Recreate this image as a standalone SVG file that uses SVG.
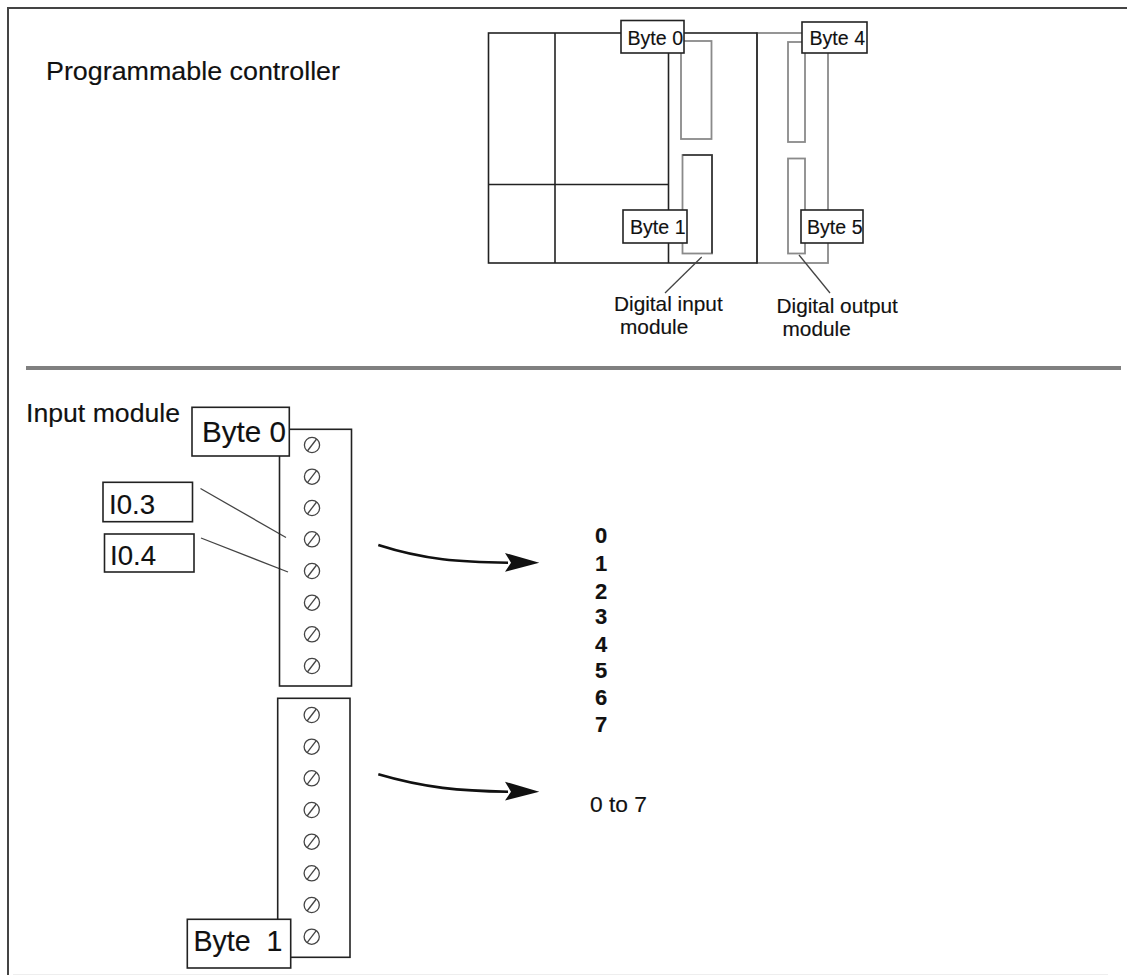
<svg xmlns="http://www.w3.org/2000/svg" width="1127" height="975" viewBox="0 0 1127 975">
<style>
text{font-family:"Liberation Sans",Arial,sans-serif;fill:#111;stroke:#111;stroke-width:.15}
.k{fill:none;stroke:#222;stroke-width:1.6}
.g{fill:none;stroke:#8a8a8a;stroke-width:1.8}
.b{fill:#fff;stroke:#222;stroke-width:1.6}
.l{fill:none;stroke:#444;stroke-width:1.3}
.s{fill:#fff;stroke:#444;stroke-width:1.3}
.t20{font-size:19.6px}
.t21{font-size:20.8px}
.n{font-size:22px;font-weight:bold}
</style>
<defs>
<g id="screw"><circle class="s" r="7.6"/><line class="l" x1="-4.6" y1="6" x2="4.6" y2="-6"/></g>
</defs>
<rect width="1127" height="975" fill="#fff"/>
<g id="frame">
<line x1="8" y1="8" x2="1127" y2="8" stroke="#444" stroke-width="2"/>
<line x1="8" y1="7" x2="8" y2="975" stroke="#444" stroke-width="2"/>
<line x1="26" y1="368" x2="1121" y2="368" stroke="#808080" stroke-width="4"/>
<line x1="13" y1="974.5" x2="1108" y2="974.5" stroke="#eee" stroke-width="1"/>
</g>
<text x="46" y="79.5" style="font-size:25px" textLength="294" lengthAdjust="spacingAndGlyphs">Programmable controller</text>
<text x="26" y="422" style="font-size:25px" textLength="154" lengthAdjust="spacingAndGlyphs">Input module</text>
<g id="controller">
<rect class="g" x="757" y="33" width="71" height="230"/>
<rect class="k" x="488.5" y="33" width="268.5" height="230"/>
<line class="k" x1="555" y1="33" x2="555" y2="263"/>
<line class="k" x1="668.5" y1="33" x2="668.5" y2="263"/>
<line class="k" x1="488.5" y1="184.5" x2="668.5" y2="184.5"/>
</g>
<g id="slots">
<rect class="g" x="681" y="41" width="30.5" height="98"/>
<rect class="g" x="682.5" y="155" width="29.5" height="98.5"/>
<path class="k" d="M682.5 155H712V253.5" style="stroke:#333"/>
<rect class="g" x="788" y="42" width="17" height="100"/>
<rect class="g" x="788" y="158.5" width="17" height="95"/>
</g>
<g id="connectors">
<line class="l" x1="665" y1="293" x2="701.7" y2="257"/>
<line class="l" x1="799" y1="255" x2="830" y2="293"/>
<line class="l" x1="200.5" y1="488.5" x2="286" y2="537.5"/>
<line class="l" x1="201" y1="538" x2="288" y2="572"/>
<path d="M378.3 545C425 560 460 562 508 562.7" fill="none" stroke="#111" stroke-width="2.6"/>
<path d="M505 553L539.3 562.7L505 571.7L511 562.7Z" fill="#111"/>
<path d="M378.3 774.3C425 788 460 791 508 791.7" fill="none" stroke="#111" stroke-width="2.6"/>
<path d="M505 781.7L539.3 791.7L505 800.5L511 791.7Z" fill="#111"/>
</g>
<g id="byte0-top"><rect class="b" x="621" y="20.5" width="63" height="32.5"/><text class="t20" x="627.5" y="45">Byte 0</text></g>
<g id="byte4-top"><rect class="b" x="802" y="22" width="65" height="31"/><text class="t20" x="809.5" y="45">Byte 4</text></g>
<g id="byte1-top"><rect class="b" x="623" y="210" width="64" height="33"/><text class="t20" x="630" y="234">Byte 1</text></g>
<g id="byte5-top"><rect class="b" x="801" y="210" width="62" height="33"/><text class="t20" x="807" y="234">Byte 5</text></g>
<g id="input-label"><text class="t21" x="614" y="311">Digital input</text><text class="t21" x="620" y="334">module</text></g>
<g id="output-label"><text class="t21" x="776.5" y="313">Digital output</text><text class="t21" x="782.5" y="336">module</text></g>
<g id="module-a">
<rect class="k" x="279.5" y="429.3" width="72" height="256.7"/>
<use href="#screw" x="312" y="445"/><use href="#screw" x="312" y="476.7"/><use href="#screw" x="312" y="508"/><use href="#screw" x="312" y="539.3"/><use href="#screw" x="312" y="571"/><use href="#screw" x="312" y="602.7"/><use href="#screw" x="312" y="634.3"/><use href="#screw" x="312" y="666"/>
</g>
<g id="module-b">
<rect class="k" x="277.7" y="698.3" width="72.3" height="259"/>
<use href="#screw" x="311.7" y="715"/><use href="#screw" x="311.7" y="746.7"/><use href="#screw" x="311.7" y="778.3"/><use href="#screw" x="311.7" y="810"/><use href="#screw" x="311.7" y="841.7"/><use href="#screw" x="311.7" y="873.3"/><use href="#screw" x="311.7" y="905"/><use href="#screw" x="311.7" y="936.7"/>
</g>
<g id="byte0"><rect class="b" x="192" y="407.3" width="97.3" height="48.7"/><text x="202" y="442" style="font-size:29.6px">Byte 0</text></g>
<g id="byte1"><rect class="b" x="187.3" y="919.3" width="103.4" height="48.7"/><text x="193.5" y="950.7" style="font-size:28.6px" xml:space="preserve">Byte  1</text></g>
<g id="i03"><rect class="b" x="103" y="482.3" width="89.5" height="39.4"/><text x="109" y="514" style="font-size:27.6px">I0.3</text></g>
<g id="i04"><rect class="b" x="104.5" y="534" width="89.5" height="38"/><text x="110" y="565" style="font-size:27.6px">I0.4</text></g>
<g id="bits">
<text class="n" x="595" y="543.3">0</text><text class="n" x="595" y="570.7">1</text><text class="n" x="595" y="599">2</text><text class="n" x="595" y="624">3</text><text class="n" x="595" y="652">4</text><text class="n" x="595" y="677.7">5</text><text class="n" x="595" y="705">6</text><text class="n" x="595" y="731.7">7</text>
<text x="590" y="811.7" style="font-size:22.8px">0 to 7</text>
</g>
</svg>
